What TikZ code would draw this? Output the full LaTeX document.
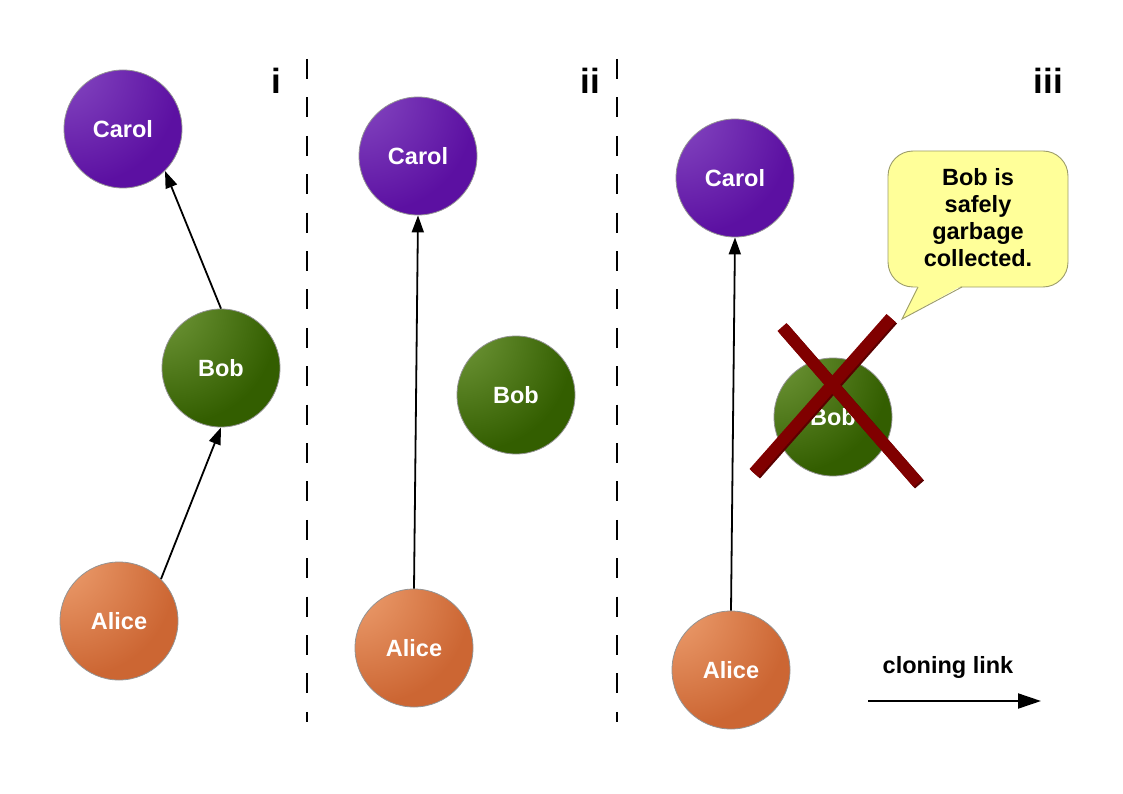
\documentclass[tikz,border=0pt]{standalone}
\usepackage{fontspec}
\setmainfont{Liberation Sans}
\usetikzlibrary{arrows.meta}
\definecolor{carolL}{HTML}{8C52C6}
\definecolor{carolD}{HTML}{5C10A2}
\definecolor{bobL}{HTML}{7CA244}
\definecolor{bobD}{HTML}{335E00}
\definecolor{aliceL}{HTML}{F3A97A}
\definecolor{aliceD}{HTML}{CC6633}
\definecolor{crossred}{HTML}{800000}
\definecolor{crossdark}{HTML}{5A0000}
\definecolor{calloutfill}{HTML}{FFFF99}
\definecolor{calloutdraw}{HTML}{9C9C6A}
\pgfdeclareradialshading{carolsh}{\pgfpoint{-32bp}{32bp}}{color(0bp)=(carolL); color(42bp)=(carolD); color(100bp)=(carolD)}
\pgfdeclareradialshading{bobsh}{\pgfpoint{-32bp}{32bp}}{color(0bp)=(bobL); color(42bp)=(bobD); color(100bp)=(bobD)}
\pgfdeclareradialshading{alicesh}{\pgfpoint{-32bp}{32bp}}{color(0bp)=(aliceL); color(42bp)=(aliceD); color(100bp)=(aliceD)}
\begin{document}
\begin{tikzpicture}[x=1pt,y=-1pt,
  person/.style={circle, minimum size=118pt, inner sep=0pt, draw=gray!85, line width=0.8pt,
    shade, font=\bfseries\fontsize{23.5}{27}\selectfont, text=white},
  carol/.style={person, shading=carolsh},
  bob/.style={person, shading=bobsh},
  alice/.style={person, shading=alicesh},
  link/.style={-{Triangle[length=17pt,width=12pt]}, line width=1.8pt, black},
  legendlink/.style={-{Triangle[length=23pt,width=15pt]}, line width=2pt, black},
  divider/.style={line width=2pt, dash pattern=on 20pt off 18.4pt},
  panellabel/.style={anchor=base, inner sep=0pt, font=\bfseries\fontsize{35}{40}\selectfont},
  crossbar/.style={line width=12pt, crossred},
  crossshadow/.style={line width=12pt, crossdark},
  callout/.style={fill=calloutfill, draw=calloutdraw, line width=0.9pt},
  bigtext/.style={font=\bfseries\fontsize{23.5}{27}\selectfont}
]
\useasboundingbox (0,0) rectangle (1123,794);

% dividers
\coordinate (d1t) at (307,59);
\coordinate (d1b) at (307,722);
\coordinate (d2t) at (617,59);
\coordinate (d2b) at (617,722);
\draw[divider] (d1t) -- (d1b);
\draw[divider] (d2t) -- (d2b);

% panel labels
\node[panellabel] (li) at (276,94) {i};
\node[panellabel] (lii) at (590.5,94) {ii};
\node[panellabel] (liii) at (1048.5,94) {iii};

% panel i
\node[carol] (c1) at (123,129) {Carol};
\node[bob] (b1) at (221,368) {Bob};
\node[alice] (a1) at (119,621) {Alice};
\draw[link] (a1.45) -- (b1.south);
\draw[link] (b1.north) -- (c1.-45);

% panel ii
\node[carol] (c2) at (418,156) {Carol};
\node[bob] (b2) at (516,395) {Bob};
\node[alice] (a2) at (414,648) {Alice};
\draw[link] (a2.north) -- (c2.south);

% panel iii
\node[carol] (c3) at (735,178) {Carol};
\node[bob] (b3) at (833,417) {Bob};
\node[alice] (a3) at (731,670) {Alice};
\draw[link] (a3.north) -- (c3.south);

% cross over Bob
\draw[crossshadow] (783.5,328.5) -- (919.5,484.5);
\draw[crossshadow] (892.5,319.5) -- (755.5,474.5);
\draw[crossbar] (782,327) -- (918,483);
\draw[crossbar] (891,318) -- (754,473);

% callout
\draw[callout, rounded corners=25pt] (888,151) rectangle (1068,287);
\fill[calloutfill] (918,285.5) -- (902,319) -- (962,285.5) -- cycle;
\draw[calloutdraw, line width=0.9pt, line join=miter] (918,287) -- (902,319) -- (962,287);
\node[bigtext, align=center, anchor=north, inner sep=0pt] (ct) at (978,168)
  {Bob is\\safely\\garbage\\collected.};

% legend
\coordinate (l1) at (868,701);
\coordinate (l2) at (1041,701);
\draw[legendlink] (l1) -- (l2);
\node[bigtext, anchor=base, inner sep=0pt] (lt) at (948,673) {cloning link};
\end{tikzpicture}
\end{document}
